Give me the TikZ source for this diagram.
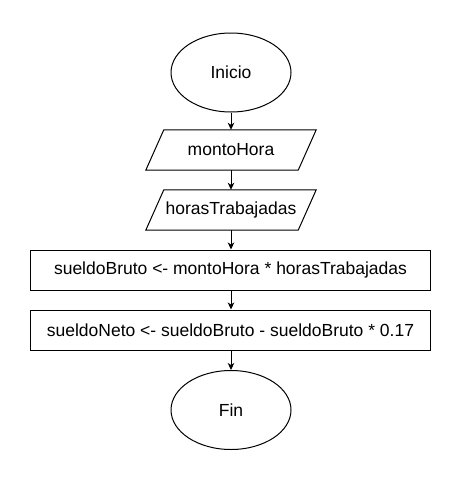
\documentclass[tikz,border=0pt]{standalone}
\usepackage{fontspec}
\setmainfont{Liberation Sans}
\usetikzlibrary{shapes.geometric,arrows.meta}
\begin{document}
\begin{tikzpicture}[x=1pt,y=-1pt,
  every node/.style={font=\fontsize{17.5}{20}\selectfont, inner sep=0pt},
  term/.style={draw, ellipse, minimum width=120pt, minimum height=79pt, line width=1pt},
  iobox/.style={rectangle, minimum width=152pt, minimum height=40pt},
  proc/.style={draw, rectangle, minimum width=400pt, minimum height=40pt, line width=1pt},
  ioline/.style={line width=1pt, line join=miter},
  conn/.style={-{Stealth[length=7pt,width=6.5pt,inset=2pt]}, line width=1pt}]
\useasboundingbox (0,0) rectangle (461,482);
\node[term] (ini) at (231,72.5) {Inicio};
\node[iobox] (p1) at (231,150) {montoHora};
\node[iobox] (p2) at (231,210) {horasTrabajadas};
\draw[ioline] ([xshift=-9pt]p1.south west) -- ([xshift=9pt]p1.north west) -- ([xshift=9pt]p1.north east) -- ([xshift=-9pt]p1.south east) -- cycle;
\draw[ioline] ([xshift=-9pt]p2.south west) -- ([xshift=9pt]p2.north west) -- ([xshift=9pt]p2.north east) -- ([xshift=-9pt]p2.south east) -- cycle;
\node[proc] (r1) at (230.5,270) {sueldoBruto <- montoHora * horasTrabajadas};
\node[proc] (r2) at (230.5,330) {sueldoNeto <- sueldoBruto - sueldoBruto * 0.17};
\node[term] (fin) at (231,410) {Fin};
\draw[conn] (ini.south) -- (p1.north);
\draw[conn] (p1.south) -- (p2.north);
\draw[conn] (p2.south) -- (r1.north -| p2.south);
\draw[conn] (r1.south -| p2.south) -- (r2.north -| p2.south);
\draw[conn] (r2.south -| fin.north) -- (fin.north);
\end{tikzpicture}
\end{document}
